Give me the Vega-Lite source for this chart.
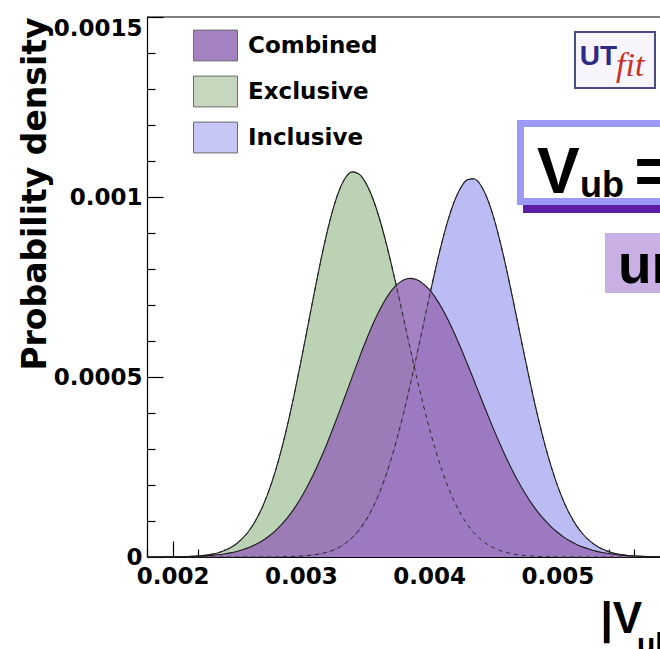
{
  "$schema": "https://vega.github.io/schema/vega-lite/v6.json",
  "width": 513,
  "height": 540,
  "autosize": {"type": "none"},
  "padding": {"left": 147, "top": 17, "right": 0, "bottom": 92},
  "background": "white",
  "config": {"view": {"stroke": null}, "font": "DejaVu Sans"},
  "datasets": {
    "curves": [
      {"x": 0.0018, "Combined": 0.0001e-3, "Exclusive": 0, "Inclusive": 0},
      {"x": 0.00185, "Combined": 0.0001e-3, "Exclusive": 0.0001e-3, "Inclusive": 0},
      {"x": 0.0019, "Combined": 0.0002e-3, "Exclusive": 0.0001e-3, "Inclusive": 0},
      {"x": 0.00195, "Combined": 0.0003e-3, "Exclusive": 0.0002e-3, "Inclusive": 0},
      {"x": 0.002, "Combined": 0.0005e-3, "Exclusive": 0.0003e-3, "Inclusive": 0},
      {"x": 0.00205, "Combined": 0.0007e-3, "Exclusive": 0.0006e-3, "Inclusive": 0},
      {"x": 0.0021, "Combined": 0.0011e-3, "Exclusive": 0.001e-3, "Inclusive": 0},
      {"x": 0.00215, "Combined": 0.0016e-3, "Exclusive": 0.0017e-3, "Inclusive": 0},
      {"x": 0.0022, "Combined": 0.0022e-3, "Exclusive": 0.0028e-3, "Inclusive": 0},
      {"x": 0.00225, "Combined": 0.0032e-3, "Exclusive": 0.0046e-3, "Inclusive": 0},
      {"x": 0.0023, "Combined": 0.0045e-3, "Exclusive": 0.0073e-3, "Inclusive": 0},
      {"x": 0.00235, "Combined": 0.0062e-3, "Exclusive": 0.0113e-3, "Inclusive": 0},
      {"x": 0.0024, "Combined": 0.0085e-3, "Exclusive": 0.0172e-3, "Inclusive": 0},
      {"x": 0.00245, "Combined": 0.0115e-3, "Exclusive": 0.0256e-3, "Inclusive": 0},
      {"x": 0.0025, "Combined": 0.0155e-3, "Exclusive": 0.0374e-3, "Inclusive": 0},
      {"x": 0.00255, "Combined": 0.0206e-3, "Exclusive": 0.0535e-3, "Inclusive": 0},
      {"x": 0.0026, "Combined": 0.027e-3, "Exclusive": 0.0751e-3, "Inclusive": 0},
      {"x": 0.00265, "Combined": 0.0352e-3, "Exclusive": 0.1034e-3, "Inclusive": 0},
      {"x": 0.0027, "Combined": 0.0452e-3, "Exclusive": 0.1391e-3, "Inclusive": 0},
      {"x": 0.00275, "Combined": 0.0575e-3, "Exclusive": 0.1837e-3, "Inclusive": 0},
      {"x": 0.0028, "Combined": 0.0725e-3, "Exclusive": 0.2376e-3, "Inclusive": 0.0003e-3},
      {"x": 0.00285, "Combined": 0.0904e-3, "Exclusive": 0.3011e-3, "Inclusive": 0.0006e-3},
      {"x": 0.0029, "Combined": 0.1115e-3, "Exclusive": 0.3741e-3, "Inclusive": 0.0009e-3},
      {"x": 0.00295, "Combined": 0.1358e-3, "Exclusive": 0.4551e-3, "Inclusive": 0.0015e-3},
      {"x": 0.003, "Combined": 0.1639e-3, "Exclusive": 0.5427e-3, "Inclusive": 0.0024e-3},
      {"x": 0.00305, "Combined": 0.1957e-3, "Exclusive": 0.6342e-3, "Inclusive": 0.0038e-3},
      {"x": 0.0031, "Combined": 0.231e-3, "Exclusive": 0.7263e-3, "Inclusive": 0.0058e-3},
      {"x": 0.00315, "Combined": 0.27e-3, "Exclusive": 0.8149e-3, "Inclusive": 0.0088e-3},
      {"x": 0.0032, "Combined": 0.312e-3, "Exclusive": 0.8961e-3, "Inclusive": 0.013e-3},
      {"x": 0.00325, "Combined": 0.3569e-3, "Exclusive": 0.9657e-3, "Inclusive": 0.0191e-3},
      {"x": 0.0033, "Combined": 0.4037e-3, "Exclusive": 1.0196e-3, "Inclusive": 0.0274e-3},
      {"x": 0.00335, "Combined": 0.4519e-3, "Exclusive": 1.055e-3, "Inclusive": 0.0386e-3},
      {"x": 0.0034, "Combined": 0.5005e-3, "Exclusive": 1.0699e-3, "Inclusive": 0.0536e-3},
      {"x": 0.00345, "Combined": 0.5484e-3, "Exclusive": 1.0644e-3, "Inclusive": 0.0731e-3},
      {"x": 0.0035, "Combined": 0.5944e-3, "Exclusive": 1.0427e-3, "Inclusive": 0.0982e-3},
      {"x": 0.00355, "Combined": 0.6374e-3, "Exclusive": 1.0056e-3, "Inclusive": 0.1295e-3},
      {"x": 0.0036, "Combined": 0.6762e-3, "Exclusive": 0.9548e-3, "Inclusive": 0.1677e-3},
      {"x": 0.00365, "Combined": 0.7098e-3, "Exclusive": 0.8924e-3, "Inclusive": 0.2137e-3},
      {"x": 0.0037, "Combined": 0.7371e-3, "Exclusive": 0.8212e-3, "Inclusive": 0.2678e-3},
      {"x": 0.00375, "Combined": 0.7572e-3, "Exclusive": 0.744e-3, "Inclusive": 0.3295e-3},
      {"x": 0.0038, "Combined": 0.7697e-3, "Exclusive": 0.6636e-3, "Inclusive": 0.3988e-3},
      {"x": 0.00385, "Combined": 0.774e-3, "Exclusive": 0.5827e-3, "Inclusive": 0.4746e-3},
      {"x": 0.0039, "Combined": 0.7706e-3, "Exclusive": 0.5038e-3, "Inclusive": 0.555e-3},
      {"x": 0.00395, "Combined": 0.7602e-3, "Exclusive": 0.4288e-3, "Inclusive": 0.6381e-3},
      {"x": 0.004, "Combined": 0.7431e-3, "Exclusive": 0.3592e-3, "Inclusive": 0.7211e-3},
      {"x": 0.00405, "Combined": 0.7198e-3, "Exclusive": 0.2963e-3, "Inclusive": 0.8011e-3},
      {"x": 0.0041, "Combined": 0.6908e-3, "Exclusive": 0.2406e-3, "Inclusive": 0.8748e-3},
      {"x": 0.00415, "Combined": 0.6569e-3, "Exclusive": 0.1924e-3, "Inclusive": 0.9391e-3},
      {"x": 0.0042, "Combined": 0.619e-3, "Exclusive": 0.1514e-3, "Inclusive": 0.991e-3},
      {"x": 0.00425, "Combined": 0.578e-3, "Exclusive": 0.1174e-3, "Inclusive": 1.028e-3},
      {"x": 0.0043, "Combined": 0.5346e-3, "Exclusive": 0.0895e-3, "Inclusive": 1.0483e-3},
      {"x": 0.00435, "Combined": 0.4902e-3, "Exclusive": 0.0672e-3, "Inclusive": 1.0507e-3},
      {"x": 0.0044, "Combined": 0.4452e-3, "Exclusive": 0.0497e-3, "Inclusive": 1.034e-3},
      {"x": 0.00445, "Combined": 0.4007e-3, "Exclusive": 0.0362e-3, "Inclusive": 0.9987e-3},
      {"x": 0.0045, "Combined": 0.3574e-3, "Exclusive": 0.0259e-3, "Inclusive": 0.9468e-3},
      {"x": 0.00455, "Combined": 0.3158e-3, "Exclusive": 0.0183e-3, "Inclusive": 0.8809e-3},
      {"x": 0.0046, "Combined": 0.2765e-3, "Exclusive": 0.0127e-3, "Inclusive": 0.8047e-3},
      {"x": 0.00465, "Combined": 0.2399e-3, "Exclusive": 0.0087e-3, "Inclusive": 0.7212e-3},
      {"x": 0.0047, "Combined": 0.2062e-3, "Exclusive": 0.0058e-3, "Inclusive": 0.6345e-3},
      {"x": 0.00475, "Combined": 0.1756e-3, "Exclusive": 0.0039e-3, "Inclusive": 0.548e-3},
      {"x": 0.0048, "Combined": 0.1482e-3, "Exclusive": 0.0025e-3, "Inclusive": 0.4645e-3},
      {"x": 0.00485, "Combined": 0.124e-3, "Exclusive": 0.0016e-3, "Inclusive": 0.3864e-3},
      {"x": 0.0049, "Combined": 0.1028e-3, "Exclusive": 0.001e-3, "Inclusive": 0.3155e-3},
      {"x": 0.00495, "Combined": 0.0844e-3, "Exclusive": 0.0006e-3, "Inclusive": 0.2529e-3},
      {"x": 0.005, "Combined": 0.0687e-3, "Exclusive": 0.0004e-3, "Inclusive": 0.1989e-3},
      {"x": 0.00505, "Combined": 0.0553e-3, "Exclusive": 0.0002e-3, "Inclusive": 0.1536e-3},
      {"x": 0.0051, "Combined": 0.0442e-3, "Exclusive": 0.0001e-3, "Inclusive": 0.1164e-3},
      {"x": 0.00515, "Combined": 0.035e-3, "Exclusive": 0, "Inclusive": 0.0866e-3},
      {"x": 0.0052, "Combined": 0.0274e-3, "Exclusive": 0, "Inclusive": 0.0632e-3},
      {"x": 0.00525, "Combined": 0.0213e-3, "Exclusive": 0, "Inclusive": 0.0453e-3},
      {"x": 0.0053, "Combined": 0.0164e-3, "Exclusive": 0, "Inclusive": 0.0319e-3},
      {"x": 0.00535, "Combined": 0.0125e-3, "Exclusive": 0, "Inclusive": 0.022e-3},
      {"x": 0.0054, "Combined": 0.0095e-3, "Exclusive": 0, "Inclusive": 0.0149e-3},
      {"x": 0.00545, "Combined": 0.0071e-3, "Exclusive": 0, "Inclusive": 0.0099e-3},
      {"x": 0.0055, "Combined": 0.0053e-3, "Exclusive": 0, "Inclusive": 0.0065e-3},
      {"x": 0.00555, "Combined": 0.0039e-3, "Exclusive": 0, "Inclusive": 0.0041e-3},
      {"x": 0.0056, "Combined": 0.0028e-3, "Exclusive": 0, "Inclusive": 0.0026e-3},
      {"x": 0.00565, "Combined": 0.002e-3, "Exclusive": 0, "Inclusive": 0.0016e-3},
      {"x": 0.0057, "Combined": 0.0015e-3, "Exclusive": 0, "Inclusive": 0.001e-3},
      {"x": 0.00575, "Combined": 0.001e-3, "Exclusive": 0, "Inclusive": 0.0006e-3},
      {"x": 0.0058, "Combined": 0.0007e-3, "Exclusive": 0, "Inclusive": 0.0003e-3}
    ]
  },
  "resolve": {"axis": {"x": "independent", "y": "independent"}},
  "layer": [
    {
      "layer": [
        {
          "data": {"name": "curves"},
          "transform": [
            {"fold": ["Combined", "Exclusive", "Inclusive"], "as": ["series", "density"]},
            {"filter": "datum.series === 'Exclusive'"}
          ],
          "mark": {"type": "area", "interpolate": "monotone"},
          "encoding": {
            "x": {
              "field": "x", "type": "quantitative",
              "scale": {"domain": [0.0018, 0.0058], "nice": false, "zero": false},
              "axis": {
                "orient": "bottom",
                "values": [0.002, 0.003, 0.004, 0.005],
                "format": ".3f",
                "tickSize": -16,
                "labelFont": "DejaVu Sans", "labelFontWeight": "bold", "labelFontSize": 23, "labelColor": "black",
                "labelPadding": 24, "labelFlush": false, "labelOverlap": false,
                "domainColor": "black", "domainWidth": 1.2, "tickColor": "black", "tickWidth": 1.2, "grid": false,
                "title": "|V", "titleFont": "Liberation Sans", "titleFontWeight": "bold", "titleFontSize": 44, "titleColor": "black",
                "titleX": 453, "titleY": 75, "titleAlign": "left", "titleBaseline": "alphabetic"
              }
            },
            "y": {
              "field": "density", "type": "quantitative",
              "scale": {"domain": [0, 0.0015], "nice": false},
              "axis": {
                "orient": "left",
                "values": [0, 0.0005, 0.001, 0.0015],
                "labelExpr": "datum.value == 0 ? '0' : format(datum.value, '~g')",
                "labelBaseline": {"condition": {"test": "datum.value > 0.0014", "value": "top"}, "value": "middle"},
                "tickSize": -16,
                "labelFont": "DejaVu Sans", "labelFontWeight": "bold", "labelFontSize": 23, "labelColor": "black",
                "labelPadding": 21, "labelFlush": false, "labelOverlap": false,
                "domainColor": "black", "domainWidth": 1.2, "tickColor": "black", "tickWidth": 1.2, "grid": false,
                "title": "Probability density", "titleFont": "DejaVu Sans", "titleFontWeight": "bold", "titleFontSize": 33, "titleColor": "black",
                "titleX": -102, "titleY": 0, "titleAngle": -90, "titleAlign": "right", "titleBaseline": "alphabetic"
              }
            },
            "fill": {
              "field": "series", "type": "nominal",
              "scale": {"domain": ["Combined", "Exclusive", "Inclusive"], "range": ["#966eb7", "#bcd2b4", "#bcbcf5"]},
              "legend": {
                "orient": "none", "legendX": 46, "legendY": 6, "title": null, "padding": 0,
                "symbolType": "M-1,-0.7H1V0.7H-1Z", "symbolSize": 1936,
                "symbolStrokeColor": "#555555", "symbolStrokeWidth": 1, "symbolOpacity": 1,
                "labelFont": "DejaVu Sans", "labelFontWeight": "bold", "labelFontSize": 23, "labelColor": "black",
                "labelOffset": 10, "rowPadding": 6
              }
            }
          }
        },
        {
          "data": {"name": "curves"},
          "transform": [
            {"fold": ["Combined", "Exclusive", "Inclusive"], "as": ["series", "density"]},
            {"filter": "datum.series === 'Exclusive'"}
          ],
          "mark": {"type": "line", "interpolate": "monotone", "color": "#1a1a1a", "strokeWidth": 1.1},
          "encoding": {
            "x": {"field": "x", "type": "quantitative"},
            "y": {"field": "density", "type": "quantitative"}
          }
        },
        {
          "data": {"name": "curves"},
          "transform": [
            {"fold": ["Combined", "Exclusive", "Inclusive"], "as": ["series", "density"]},
            {"filter": "datum.series === 'Inclusive'"}
          ],
          "mark": {"type": "area", "interpolate": "monotone"},
          "encoding": {
            "x": {"field": "x", "type": "quantitative"},
            "y": {"field": "density", "type": "quantitative"},
            "fill": {"field": "series", "type": "nominal"}
          }
        },
        {
          "data": {"name": "curves"},
          "transform": [
            {"fold": ["Combined", "Exclusive", "Inclusive"], "as": ["series", "density"]},
            {"filter": "datum.series === 'Inclusive'"}
          ],
          "mark": {"type": "line", "interpolate": "monotone", "color": "#1a1a1a", "strokeWidth": 1.1},
          "encoding": {
            "x": {"field": "x", "type": "quantitative"},
            "y": {"field": "density", "type": "quantitative"}
          }
        },
        {
          "data": {"name": "curves"},
          "transform": [
            {"fold": ["Combined", "Exclusive", "Inclusive"], "as": ["series", "density"]},
            {"filter": "datum.series === 'Combined'"}
          ],
          "mark": {"type": "area", "interpolate": "monotone", "opacity": 0.86},
          "encoding": {
            "x": {"field": "x", "type": "quantitative"},
            "y": {"field": "density", "type": "quantitative"},
            "fill": {"field": "series", "type": "nominal"}
          }
        },
        {
          "data": {"name": "curves"},
          "transform": [
            {"fold": ["Combined", "Exclusive", "Inclusive"], "as": ["series", "density"]},
            {"filter": "datum.series !== 'Combined'"}
          ],
          "mark": {"type": "line", "interpolate": "monotone", "color": "#2a2a2a", "strokeWidth": 1, "strokeDash": [4, 4]},
          "encoding": {
            "x": {"field": "x", "type": "quantitative"},
            "y": {"field": "density", "type": "quantitative"},
            "detail": {"field": "series"}
          }
        },
        {
          "data": {"name": "curves"},
          "transform": [
            {"fold": ["Combined", "Exclusive", "Inclusive"], "as": ["series", "density"]},
            {"filter": "datum.series === 'Combined'"}
          ],
          "mark": {"type": "line", "interpolate": "monotone", "color": "#1a1a1a", "strokeWidth": 1.1},
          "encoding": {
            "x": {"field": "x", "type": "quantitative"},
            "y": {"field": "density", "type": "quantitative"}
          }
        },
        {
          "data": {"values": [{}]},
          "mark": {"type": "rule", "color": "black", "strokeWidth": 1.2},
          "encoding": {"y": {"datum": 0.0015}}
        },
        {
          "data": {"values": [{}]},
          "mark": {"type": "rect", "color": "#5b1ca6"},
          "encoding": {
            "x": {"datum": 0.004732}, "x2": {"datum": 0.0064},
            "y": {"datum": 0.0011917}, "y2": {"datum": 0.0009556}
          }
        },
        {
          "data": {"values": [{}]},
          "mark": {"type": "rect", "color": "#9b9bf7"},
          "encoding": {
            "x": {"datum": 0.004685}, "x2": {"datum": 0.0064},
            "y": {"datum": 0.0012139}, "y2": {"datum": 0.0009778}
          }
        },
        {
          "data": {"values": [{}]},
          "mark": {"type": "rect", "color": "white"},
          "encoding": {
            "x": {"datum": 0.0047396}, "x2": {"datum": 0.0064},
            "y": {"datum": 0.0011944}, "y2": {"datum": 0.0009972}
          }
        },
        {
          "data": {"values": [{}]},
          "mark": {"type": "text", "text": "V", "font": "Liberation Sans", "fontWeight": "bold", "fontSize": 64, "align": "left", "baseline": "alphabetic", "color": "black"},
          "encoding": {"x": {"datum": 0.004841}, "y": {"datum": 0.001011}}
        },
        {
          "data": {"values": [{}]},
          "mark": {"type": "text", "text": "ub", "font": "Liberation Sans", "fontWeight": "bold", "fontSize": 36, "align": "left", "baseline": "alphabetic", "color": "black"},
          "encoding": {"x": {"datum": 0.0051763}, "y": {"datum": 0.001}}
        },
        {
          "data": {"values": [{}]},
          "mark": {"type": "text", "text": "=", "font": "Liberation Sans", "fontWeight": "bold", "fontSize": 64, "align": "left", "baseline": "alphabetic", "color": "black"},
          "encoding": {"x": {"datum": 0.0056012}, "y": {"datum": 0.001011}}
        },
        {
          "data": {"values": [{}]},
          "mark": {"type": "rect", "color": "#c8b0e4"},
          "encoding": {
            "x": {"datum": 0.0053712}, "x2": {"datum": 0.0064},
            "y": {"datum": 0.0009}, "y2": {"datum": 0.0007333}
          }
        },
        {
          "data": {"values": [{}]},
          "mark": {"type": "text", "text": "ur", "font": "Liberation Sans", "fontWeight": "bold", "fontSize": 55, "align": "left", "baseline": "alphabetic", "color": "black"},
          "encoding": {"x": {"datum": 0.0054725}, "y": {"datum": 0.000761}}
        },
        {
          "data": {"values": [{}]},
          "mark": {"type": "rect", "fill": "#f7f5fb", "stroke": "#4b4b88", "strokeWidth": 2},
          "encoding": {
            "x": {"datum": 0.0051372}, "x2": {"datum": 0.005761},
            "y": {"datum": 0.0014583}, "y2": {"datum": 0.0013028}
          }
        },
        {
          "data": {"values": [{}]},
          "mark": {"type": "text", "text": "UT", "font": "Liberation Sans", "fontWeight": "bold", "fontSize": 28, "align": "left", "baseline": "alphabetic", "color": "#2b2b86"},
          "encoding": {"x": {"datum": 0.005175}, "y": {"datum": 0.0013667}}
        },
        {
          "data": {"values": [{}]},
          "mark": {"type": "text", "text": "fit", "font": "Liberation Serif", "fontStyle": "italic", "fontSize": 34, "align": "left", "baseline": "alphabetic", "color": "#c83228"},
          "encoding": {"x": {"datum": 0.005457}, "y": {"datum": 0.0013361}}
        },
        {
          "data": {"values": [{}]},
          "mark": {"type": "text", "text": "ub|", "font": "Liberation Sans", "fontWeight": "bold", "fontSize": 30, "align": "left", "baseline": "alphabetic", "color": "black"},
          "encoding": {"x": {"datum": 0.0056207}, "y": {"datum": -0.0002694}}
        }
      ]
    },
    {
      "data": {"values": [{}]},
      "mark": {"type": "text", "text": ""},
      "encoding": {
        "x": {
          "datum": 0.0018, "type": "quantitative",
          "axis": {
            "orient": "bottom",
            "values": [0.0018, 0.0022, 0.0024, 0.0026, 0.0028, 0.0032, 0.0034, 0.0036, 0.0038, 0.0042, 0.0044, 0.0046, 0.0048, 0.0052, 0.0054, 0.0056],
            "tickSize": -8, "tickColor": "black", "tickWidth": 1.2,
            "labels": false, "domain": false, "grid": false, "title": null
          }
        },
        "y": {
          "datum": 0, "type": "quantitative",
          "axis": {
            "orient": "left",
            "values": [0.0001, 0.0002, 0.0003, 0.0004, 0.0006, 0.0007, 0.0008, 0.0009, 0.0011, 0.0012, 0.0013, 0.0014],
            "tickSize": -8, "tickColor": "black", "tickWidth": 1.2,
            "labels": false, "domain": false, "grid": false, "title": null
          }
        }
      }
    }
  ]
}
